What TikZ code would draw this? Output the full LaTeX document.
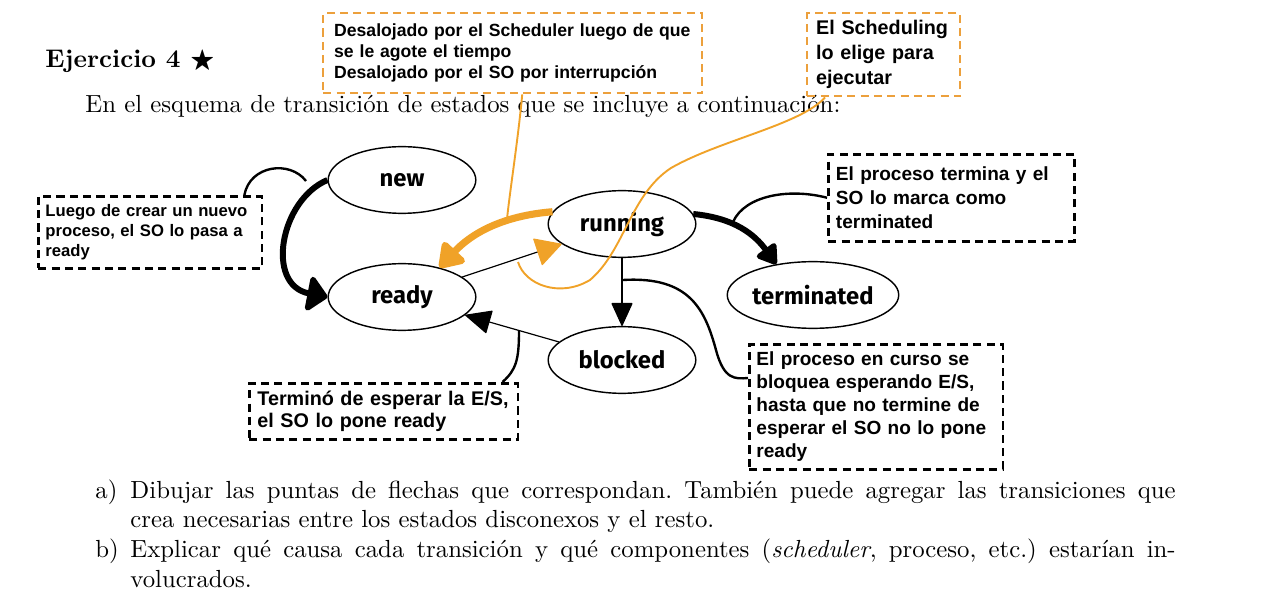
\documentclass[tikz,border=0pt]{standalone}
\usepackage{amssymb}
\usepackage{fontspec}
\usepackage{tikz}
\usetikzlibrary{arrows.meta,positioning,shapes.geometric}
\newfontfamily\notefont{Liberation Sans}
\newfontfamily\statefont{Fira Sans}
\definecolor{orangeink}{RGB}{240,162,40}
\definecolor{orangebox}{RGB}{236,160,60}

\tikzset{
  state/.style={draw, ellipse, line width=0.6pt, minimum width=62pt, minimum height=28pt,
    inner sep=0pt, font=\statefont\bfseries\fontsize{10}{12}\selectfont},
  link/.style={line width=0.5pt},
  note/.style={draw, dash pattern=on 3.4pt off 2.2pt, line width=1.1pt, anchor=north west,
    inner ysep=0pt, align=left},
  orangenote/.style={note, draw=orangebox, line width=1pt},
  scribble/.style={line width=1pt},
  orangescribble/.style={draw=orangeink, line width=0.8pt},
}

\begin{document}
\begin{tikzpicture}[x=0.42pt, y=-0.42pt]
\useasboundingbox (0,0) rectangle (1280,610);

% exercise text
\node[anchor=base west, inner sep=0pt, font=\bfseries\fontsize{10.7}{13}\selectfont] (title) at (45,68) {Ejercicio 4 $\bigstar$};
\node[anchor=base west, inner sep=0pt, font=\fontsize{10.4}{12.5}\selectfont] (intro) at (85,113)
  {En el esquema de transición de estados que se incluye a continuación:};
\node[anchor=north west, inner sep=0pt, text width=439pt, align=justify,
  font=\fontsize{10.4}{12.5}\selectfont] (tasks) at (130,479)
  {\frenchspacing\leftskip=0pt\noindent\llap{\makebox[14.7pt][l]{a)}}Dibujar las puntas de flechas que correspondan. También puede agregar las transiciones que\linebreak
   crea necesarias entre los estados disconexos y el resto.\par
   \noindent\llap{\makebox[14.7pt][l]{b)}}Explicar qué causa cada transición y qué componentes (\textit{scheduler}, proceso, etc.) estarían in-\linebreak
   volucrados.\par};

% states
\node[state] (new) at (402,180) {new};
\node[state] (running) at (622,224) {running};
\node[state] (ready) at (402,297) {ready};
\node[state] (terminated) at (813,295) {terminated};
\node[state] (blocked) at (622,360) {blocked};

\draw[link, -{Triangle[round, length=11pt, width=12pt, color=orangeink]}] (ready) -- (running);
\draw[link, {Triangle[round, length=11pt, width=10pt]}-] (ready) -- (blocked);
\draw[link, -{Triangle[round, length=10pt, width=9pt]}] (running) -- (blocked);

% notes
\node[note, font=\notefont\bfseries\fontsize{7}{8.4}\selectfont, text width=88pt,
  inner xsep=3pt, minimum height=30.2pt] (createnote) at (37,195)
  {Luego de crear un nuevo\\proceso, el SO lo pasa a\\ready};
\node[orangenote, font=\notefont\bfseries\fontsize{7.4}{8.8}\selectfont, text width=150pt,
  inner xsep=4.6pt, minimum height=33.6pt] (evictnote) at (322,12)
  {Desalojado por el Scheduler luego de que\\se le agote el tiempo\\Desalojado por el SO por interrupción};
\node[orangenote, font=\notefont\bfseries\fontsize{8.3}{10.5}\selectfont, text width=56.7pt,
  inner xsep=3.8pt, minimum height=34.9pt] (picknote) at (806,12)
  {El Scheduling\\lo elige para\\ejecutar};
\node[note, font=\notefont\bfseries\fontsize{8}{10}\selectfont, text width=97pt,
  inner xsep=3.2pt, minimum height=36.5pt] (endnote) at (827,153)
  {El proceso termina y el\\SO lo marca como\\terminated};
\node[note, font=\notefont\bfseries\fontsize{8.3}{9.2}\selectfont, text width=106pt,
  inner xsep=3.4pt, minimum height=23.5pt] (wakenote) at (248,382)
  {Terminó de esperar la E/S,\\el SO lo pone ready};
\node[note, font=\notefont\bfseries\fontsize{8}{9.7}\selectfont, text width=100.5pt,
  inner xsep=3pt, minimum height=52.5pt] (blocknote) at (748,343)
  {El proceso en curso se\\bloquea esperando E/S,\\hasta que no termine de\\esperar el SO no lo pone\\ready};

% hand-drawn strokes
\coordinate (createmark) at (306,181);
\coordinate (endmark) at (733,222);
\coordinate (blockmark) at (623,280);
\coordinate (wakemark) at (519,331);
\coordinate (evictmark) at (507,219);
\coordinate (pickmark) at (518,262);

\draw[line width=2.5pt, -{Triangle[round, length=9pt, width=17pt]}]
  (new.west) .. controls (280,200) and (265,285) .. (ready.west);
\draw[line width=2.5pt, -{Triangle[round, length=9pt, width=11pt]}]
  (running.8) .. controls (735,218) and (755,235) .. (terminated.140);
\draw[orangeink, line width=3pt, -{Triangle[round, length=11pt, width=14pt]}]
  (running.170) .. controls (500,216) and (470,235) .. (ready.38);

\draw[scribble] ([xshift=-8pt]createnote.north east) .. controls (250,165) and (290,160) .. (createmark);
\draw[scribble] (endnote.west) .. controls (790,188) and (745,195) .. (endmark);
\draw[scribble] (blockmark) .. controls (690,276) and (705,310) .. (716,350)
  .. controls (724,380) and (735,379) .. ([yshift=-14.7pt]blocknote.north west);
\draw[scribble] (wakemark) .. controls (519,360) and (516,370) .. ([xshift=-7pt]wakenote.north east);
\draw[orangescribble] ([xshift=4pt]evictnote.south) .. controls (518,140) and (510,190) .. (evictmark);
\draw[orangescribble] ([xshift=8pt]picknote.south west) .. controls (800,125) and (720,140) .. (671,168)
  .. controls (630,195) and (625,250) .. (590,280) .. controls (560,298) and (525,285) .. (pickmark);
\end{tikzpicture}
\end{document}
